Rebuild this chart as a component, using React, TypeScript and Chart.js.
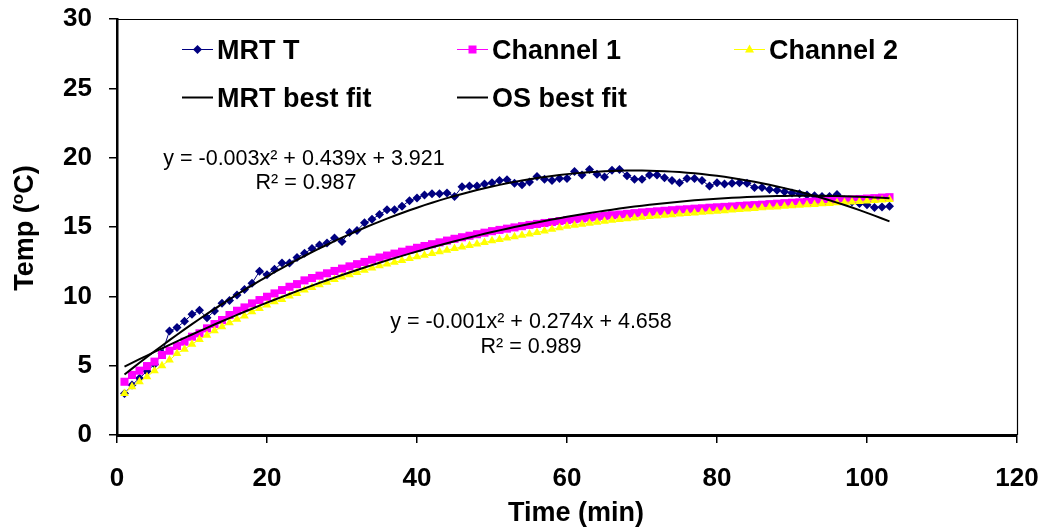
import React, { useEffect, useRef } from 'react';
import { Chart, registerables } from 'chart.js';

Chart.register(...registerables);

const FONT = '"Liberation Sans", Arial, Helvetica, sans-serif';

// Sample times (min)
const minutes = [
  1, 2, 3, 4, 5, 6, 7, 8, 9, 10,
  11, 12, 13, 14, 15, 16, 17, 18, 19, 20,
  21, 22, 23, 24, 25, 26, 27, 28, 29, 30,
  31, 32, 33, 34, 35, 36, 37, 38, 39, 40,
  41, 42, 43, 44, 45, 46, 47, 48, 49, 50,
  51, 52, 53, 54, 55, 56, 57, 58, 59, 60,
  61, 62, 63, 64, 65, 66, 67, 68, 69, 70,
  71, 72, 73, 74, 75, 76, 77, 78, 79, 80,
  81, 82, 83, 84, 85, 86, 87, 88, 89, 90,
  91, 92, 93, 94, 95, 96, 97, 98, 99, 100,
  101, 102, 103,
];

// Mean radiant temperature (°C)
const mrtT = [
  3.0, 3.6, 4.1, 4.6, 5.1, 5.9, 7.5, 7.75, 8.2, 8.7,
  9.0, 8.45, 8.95, 9.5, 9.7, 10.1, 10.5, 10.95, 11.8, 11.55,
  11.95, 12.4, 12.4, 12.8, 13.1, 13.45, 13.7, 13.85, 14.2, 13.95,
  14.6, 14.75, 15.3, 15.55, 15.9, 16.25, 16.25, 16.5, 16.9, 17.1,
  17.3, 17.4, 17.4, 17.45, 17.2, 17.9, 17.95, 17.95, 18.1, 18.2,
  18.35, 18.4, 18.15, 18.05, 18.25, 18.65, 18.45, 18.35, 18.5, 18.5,
  19.0, 18.75, 19.15, 18.8, 18.6, 19.1, 19.15, 18.7, 18.45, 18.45,
  18.75, 18.75, 18.55, 18.35, 18.2, 18.5, 18.5, 18.35, 17.95, 18.2,
  18.1, 18.15, 18.2, 18.15, 17.85, 17.85, 17.7, 17.65, 17.55, 17.45,
  17.4, 17.3, 17.25, 17.2, 17.2, 17.35, 16.95, 16.8, 16.7, 16.6,
  16.4, 16.45, 16.5,
];

// Operative sensor, channel 1 (°C)
const channel1 = [
  3.84, 4.33, 4.64, 4.97, 5.29, 5.77, 6.08, 6.42, 6.73, 7.09,
  7.33, 7.69, 8.0, 8.29, 8.65, 8.96, 9.2, 9.49, 9.73, 9.97,
  10.21, 10.45, 10.69, 10.88, 11.15, 11.32, 11.49, 11.66, 11.83, 12.0,
  12.16, 12.32, 12.48, 12.64, 12.8, 12.94, 13.08, 13.22, 13.36, 13.5,
  13.63, 13.76, 13.89, 14.02, 14.15, 14.26, 14.37, 14.48, 14.59, 14.7,
  14.79, 14.88, 14.97, 15.06, 15.15, 15.22, 15.29, 15.36, 15.43, 15.5,
  15.56, 15.62, 15.68, 15.74, 15.8, 15.85, 15.9, 15.95, 16.0, 16.05,
  16.09, 16.13, 16.17, 16.21, 16.25, 16.28, 16.32, 16.35, 16.39, 16.42,
  16.45, 16.48, 16.52, 16.55, 16.58, 16.61, 16.65, 16.68, 16.72, 16.75,
  16.78, 16.81, 16.84, 16.87, 16.9, 16.93, 16.96, 16.99, 17.02, 17.05,
  17.08, 17.12, 17.15,
];

// Operative sensor, channel 2 (°C)
const channel2 = [
  3.0, 3.48, 3.84, 4.2, 4.64, 5.0, 5.4, 5.88, 6.19, 6.55,
  6.89, 7.2, 7.52, 7.81, 8.1, 8.34, 8.58, 8.89, 9.13, 9.37,
  9.61, 9.78, 10.02, 10.21, 10.45, 10.64, 10.83, 11.02, 11.21, 11.4,
  11.56, 11.72, 11.88, 12.04, 12.2, 12.33, 12.46, 12.59, 12.72, 12.85,
  12.97, 13.09, 13.21, 13.33, 13.45, 13.56, 13.67, 13.78, 13.89, 14.0,
  14.1, 14.2, 14.3, 14.4, 14.5, 14.61, 14.72, 14.83, 14.94, 15.05,
  15.13, 15.2, 15.27, 15.35, 15.42, 15.48, 15.54, 15.59, 15.65, 15.7,
  15.75, 15.79, 15.84, 15.88, 15.93, 15.97, 16.01, 16.06, 16.1, 16.14,
  16.18, 16.22, 16.26, 16.3, 16.34, 16.38, 16.42, 16.45, 16.49, 16.53,
  16.56, 16.6, 16.63, 16.67, 16.7, 16.74, 16.77, 16.81, 16.84, 16.88,
  16.91, 16.95, 16.98,
];

// Quadratic trendline coefficients [a, b, c] for y = a·x² + b·x + c
const mrtFitCoef = [-0.00318, 0.439, 3.921];
const osFitCoef = [-0.00149, 0.274, 4.658];

const mrtEquation = ['y = -0.003x² + 0.439x + 3.921', 'R² = 0.987'];
const osEquation = ['y = -0.001x² + 0.274x + 4.658', 'R² = 0.989'];

const xTickValues = [0, 20, 40, 60, 80, 100, 120];
const yTickValues = [0, 5, 10, 15, 20, 25, 30];

const seriesNames = ['MRT T', 'Channel 1', 'Channel 2', 'MRT best fit', 'OS best fit'];

const NAVY = '#000080';
const MAGENTA = '#FF00FF';
const YELLOW = '#FFFF00';

const toPoints = (ys: number[]) => minutes.map((t, i) => ({ x: t, y: ys[i] }));
const fitPoints = (coef: number[]) =>
  minutes.map((t) => ({ x: t, y: coef[0] * t * t + coef[1] * t + coef[2] }));

function drawMarker(ctx: CanvasRenderingContext2D, kind: string, x: number, y: number, color: string) {
  ctx.save();
  ctx.fillStyle = color;
  ctx.beginPath();
  if (kind === 'diamond') {
    ctx.moveTo(x, y - 4.5);
    ctx.lineTo(x + 4.5, y);
    ctx.lineTo(x, y + 4.5);
    ctx.lineTo(x - 4.5, y);
  } else if (kind === 'square') {
    ctx.rect(x - 4, y - 4, 8, 8);
  } else {
    ctx.moveTo(x, y - 5);
    ctx.lineTo(x + 4.5, y + 3);
    ctx.lineTo(x - 4.5, y + 3);
  }
  ctx.closePath();
  ctx.fill();
  ctx.restore();
}

// Scale boxes get a fixed size and no label overhang padding, so the plot
// area is set purely by the layout padding and these sizes.
const fixScaleBox = (size: { width?: number; height?: number }) => (scale: any) => {
  if (size.width !== undefined) scale.width = size.width;
  if (size.height !== undefined) scale.height = size.height;
  scale.paddingTop = 0;
  scale.paddingBottom = 0;
  scale.paddingLeft = 0;
  scale.paddingRight = 0;
};

const decorPlugin = {
  id: 'decor',
  afterDraw(chart: any) {
    const { ctx, chartArea } = chart;
    const { left, right, top, bottom } = chartArea;
    ctx.save();

    // plot frame (top and right edges)
    ctx.strokeStyle = '#000';
    ctx.lineWidth = 1.2;
    ctx.beginPath();
    ctx.moveTo(left, top + 0.5);
    ctx.lineTo(right + 0.5, top + 0.5);
    ctx.lineTo(right + 0.5, bottom);
    ctx.stroke();

    // legend
    const rows = [49, 97];
    const cols = [left + 65, left + 340, left + 617];
    const items = [
      { name: seriesNames[0], col: 0, row: 0, color: NAVY, marker: 'diamond', lw: 1 },
      { name: seriesNames[1], col: 1, row: 0, color: MAGENTA, marker: 'square', lw: 1 },
      { name: seriesNames[2], col: 2, row: 0, color: YELLOW, marker: 'triangle', lw: 1 },
      { name: seriesNames[3], col: 0, row: 1, color: '#000', marker: '', lw: 2 },
      { name: seriesNames[4], col: 1, row: 1, color: '#000', marker: '', lw: 2 },
    ];
    ctx.font = `bold 27px ${FONT}`;
    ctx.textAlign = 'left';
    ctx.textBaseline = 'alphabetic';
    for (const it of items) {
      const x0 = cols[it.col];
      const y = rows[it.row];
      ctx.strokeStyle = it.color;
      ctx.lineWidth = it.lw;
      ctx.beginPath();
      ctx.moveTo(x0, y + 0.5);
      ctx.lineTo(x0 + 31, y + 0.5);
      ctx.stroke();
      if (it.marker) drawMarker(ctx, it.marker, x0 + 15.5, y + 0.5, it.color);
      ctx.fillStyle = '#000';
      ctx.fillText(it.name, x0 + 35, y + 10);
    }

    // trendline equations
    ctx.font = `21.5px ${FONT}`;
    ctx.textAlign = 'center';
    ctx.fillStyle = '#000';
    ctx.fillText(mrtEquation[0], left + 187, 165);
    ctx.fillText(mrtEquation[1], left + 189, 189);
    ctx.fillText(osEquation[0], left + 414, 328);
    ctx.fillText(osEquation[1], left + 414, 353);

    // x-axis title
    ctx.font = `bold 27px ${FONT}`;
    ctx.textAlign = 'center';
    ctx.fillText('Time (min)', (left + right) / 2 + 9, 521);

    // y-axis title with raised "o"
    ctx.translate(33, (top + bottom) / 2 + 1);
    ctx.rotate(-Math.PI / 2);
    const big = `bold 27px ${FONT}`;
    const small = `bold 17px ${FONT}`;
    const parts = [
      { t: 'Temp (', f: big, dy: 0 },
      { t: 'o', f: small, dy: -10 },
      { t: 'C)', f: big, dy: 0 },
    ];
    let total = 0;
    for (const p of parts) {
      ctx.font = p.f;
      total += ctx.measureText(p.t).width;
    }
    let cx = -total / 2;
    ctx.textAlign = 'left';
    for (const p of parts) {
      ctx.font = p.f;
      ctx.fillText(p.t, cx, p.dy);
      cx += ctx.measureText(p.t).width;
    }
    ctx.restore();
  },
};

export default function App() {
  const canvasRef = useRef<HTMLCanvasElement | null>(null);

  useEffect(() => {
    const canvas = canvasRef.current;
    if (!canvas) return;
    const tickFont = { family: FONT, size: 26, weight: 'bold' as const };

    const chart = new Chart(canvas, {
      type: 'scatter',
      data: {
        datasets: [
          {
            label: seriesNames[0],
            data: toPoints(mrtT),
            showLine: true,
            borderColor: NAVY,
            borderWidth: 1,
            backgroundColor: NAVY,
            pointStyle: 'rectRot',
            pointRadius: 4.5,
            pointBorderWidth: 0,
            order: 5,
          },
          {
            label: seriesNames[1],
            data: toPoints(channel1),
            showLine: true,
            borderColor: MAGENTA,
            borderWidth: 1,
            backgroundColor: MAGENTA,
            pointStyle: 'rect',
            pointRadius: 5.7,
            pointBorderWidth: 0,
            order: 4,
          },
          {
            label: seriesNames[2],
            data: toPoints(channel2),
            showLine: true,
            borderColor: YELLOW,
            borderWidth: 1,
            backgroundColor: YELLOW,
            pointStyle: 'triangle',
            pointRadius: 5,
            pointBorderWidth: 0,
            order: 3,
          },
          {
            label: seriesNames[3],
            data: fitPoints(mrtFitCoef),
            showLine: true,
            borderColor: '#000',
            borderWidth: 2,
            pointRadius: 0,
            tension: 0,
            order: 2,
          },
          {
            label: seriesNames[4],
            data: fitPoints(osFitCoef),
            showLine: true,
            borderColor: '#000',
            borderWidth: 2,
            pointRadius: 0,
            tension: 0,
            order: 1,
          },
        ],
      },
      options: {
        animation: false,
        responsive: false,
        devicePixelRatio: 1,
        layout: { padding: { top: 19, right: 23, left: 0, bottom: 0 } },
        plugins: {
          legend: { display: false },
          tooltip: { enabled: false },
          title: { display: false },
        },
        scales: {
          x: {
            type: 'linear',
            min: 0,
            max: 120,
            afterBuildTicks: (scale: any) => {
              scale.ticks = xTickValues.map((v) => ({ value: v }));
            },
            ticks: { font: tickFont, color: '#000', padding: 20 },
            grid: {
              drawOnChartArea: false,
              drawTicks: true,
              tickLength: 8,
              color: '#000',
              lineWidth: 1.5,
            },
            border: { display: true, color: '#000', width: 3 },
            afterFit: fixScaleBox({ height: 94 }),
          },
          y: {
            type: 'linear',
            min: 0,
            max: 30,
            afterBuildTicks: (scale: any) => {
              scale.ticks = yTickValues.map((v) => ({ value: v }));
            },
            ticks: { font: tickFont, color: '#000', padding: 17 },
            grid: {
              drawOnChartArea: false,
              drawTicks: true,
              tickLength: 8,
              color: '#000',
              lineWidth: 1.5,
            },
            border: { display: true, color: '#000', width: 2.5 },
            afterFit: fixScaleBox({ width: 117 }),
          },
        },
      },
      plugins: [decorPlugin],
    });

    return () => chart.destroy();
  }, []);

  return (
    <div style={{ position: 'absolute', left: 0, top: 0, width: 1040, height: 529, background: '#fff' }}>
      <canvas ref={canvasRef} width={1040} height={529} style={{ width: 1040, height: 529, display: 'block' }} />
    </div>
  );
}
